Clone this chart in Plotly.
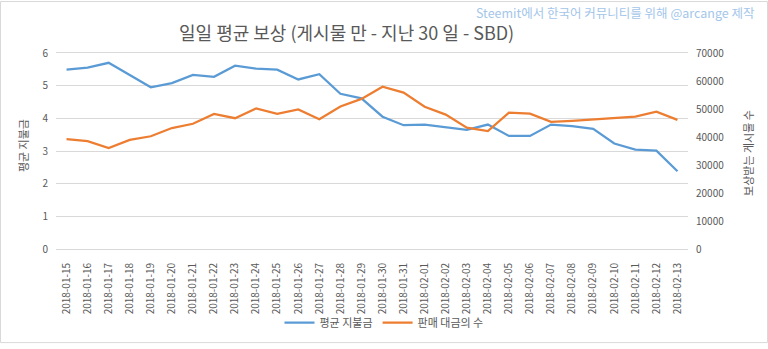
import plotly.graph_objects as go

# Daily average payout (posts only, last 30 days, SBD)
dates = [
    "2018-01-15", "2018-01-16", "2018-01-17", "2018-01-18", "2018-01-19",
    "2018-01-20", "2018-01-21", "2018-01-22", "2018-01-23", "2018-01-24",
    "2018-01-25", "2018-01-26", "2018-01-27", "2018-01-28", "2018-01-29",
    "2018-01-30", "2018-01-31", "2018-02-01", "2018-02-02", "2018-02-03",
    "2018-02-04", "2018-02-05", "2018-02-06", "2018-02-07", "2018-02-08",
    "2018-02-09", "2018-02-10", "2018-02-11", "2018-02-12", "2018-02-13",
]
avg_payout = [
    5.49, 5.55, 5.70, 5.32, 4.95, 5.08, 5.33, 5.27, 5.61, 5.52,
    5.49, 5.19, 5.35, 4.75, 4.61, 4.05, 3.79, 3.81, 3.73, 3.65,
    3.81, 3.46, 3.46, 3.81, 3.76, 3.68, 3.23, 3.04, 3.01, 2.38,
]
paid_posts = [
    39200, 38500, 36050, 38980, 40270, 43200, 44720, 48230, 46710, 50220,
    48230, 49870, 46360, 50920, 53620, 57950, 55840, 50810, 48000, 43310,
    42140, 48700, 48350, 45420, 45770, 46360, 46710, 47300, 49050, 46120,
]
left_ticks = [0, 1, 2, 3, 4, 5, 6]
right_ticks = [0, 10000, 20000, 30000, 40000, 50000, 60000, 70000]

BLUE = "#5B9BD5"
ORANGE = "#ED7D31"
TEXT = "#595959"
GRID = "#D9D9D9"
FRAME = "#D9D9D9"
FONT = "Noto Sans CJK KR"

W, H = 768, 349
ML, MR, MT, MB = 56, 80, 53, 96
PW, PH = W - ML - MR, H - MT - MB


def px(x):
    return (x - ML) / PW


def py(y):
    return (H - MB - y) / PH


fig = go.Figure()
fig.add_trace(go.Scatter(
    x=dates, y=avg_payout, name="평균 지불금", mode="lines",
    line=dict(color=BLUE, width=2.25), yaxis="y",
))
fig.add_trace(go.Scatter(
    x=dates, y=paid_posts, name="판매 대금의 수", mode="lines",
    line=dict(color=ORANGE, width=2.25), yaxis="y2",
))

fig.update_layout(
    width=W, height=H,
    margin=dict(l=ML, r=MR, t=MT, b=MB, pad=0),
    paper_bgcolor="white", plot_bgcolor="white",
    font=dict(family=FONT, color=TEXT, size=10),
    showlegend=True,
    legend=dict(
        orientation="h", x=px(384), y=py(328), xanchor="center", yanchor="middle",
        font=dict(size=11, color=TEXT), itemwidth=30, bgcolor="rgba(0,0,0,0)",
    ),
    # top and bottom edges of the plot carry the 6 and 0 gridlines
    xaxis=dict(
        type="category", range=[-0.5, len(dates) - 0.5], tickangle=-90,
        showgrid=False, showline=True, mirror=True, linecolor=GRID, linewidth=1,
        ticks="", ticklabelstandoff=9,
        tickfont=dict(size=10, color=TEXT), zeroline=False, layer="below traces",
    ),
    yaxis=dict(
        range=[0, 6], tickvals=left_ticks, showgrid=True, gridcolor=GRID,
        gridwidth=1, zeroline=False, showline=False, ticks="",
        ticklabelstandoff=7, tickfont=dict(size=10, color=TEXT),
    ),
    yaxis2=dict(
        range=[0, 70000], tickvals=right_ticks, overlaying="y", side="right",
        showgrid=False, zeroline=False, showline=False, ticks="",
        ticklabelstandoff=7, tickfont=dict(size=10, color=TEXT), tickformat="d",
    ),
    annotations=[
        dict(text="일일 평균 보상 (게시물 만 - 지난 30 일 - SBD)", x=px(346), y=py(32),
             xref="paper", yref="paper", showarrow=False, xanchor="center",
             yanchor="middle", font=dict(size=18, color=TEXT)),
        dict(text="Steemit에서 한국어 커뮤니티를 위해 @arcange 제작", x=px(757), y=py(12),
             xref="paper", yref="paper", showarrow=False, xanchor="right",
             yanchor="middle", font=dict(size=12.5, color="#A4C6EA")),
        dict(text="평균 지불금", x=px(23), y=py(148), xref="paper", yref="paper",
             showarrow=False, textangle=-90, xanchor="center", yanchor="middle",
             font=dict(size=11, color=TEXT)),
        dict(text="보상받는 게시물 수", x=px(748), y=py(155), xref="paper", yref="paper",
             showarrow=False, textangle=-90, xanchor="center", yanchor="middle",
             font=dict(size=11, color=TEXT)),
    ],
    shapes=[
        dict(type="rect", xref="paper", yref="paper",
             x0=px(0.5), x1=px(767.5), y0=py(0.5), y1=py(348.5),
             line=dict(color=FRAME, width=1), fillcolor="rgba(0,0,0,0)", layer="above"),
    ],
)

fig.write_html("out.html")
